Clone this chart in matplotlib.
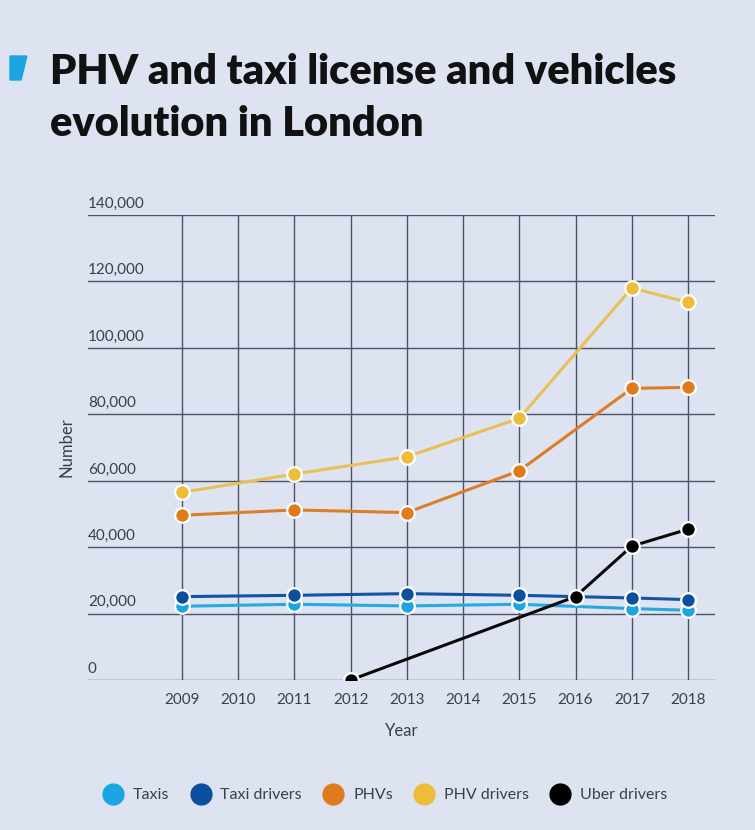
import matplotlib.pyplot as plt
from matplotlib.patches import Polygon
from matplotlib.lines import Line2D

plt.rcParams['font.family'] = ['Lato', 'DejaVu Sans']

# yearly figures for London licensing
years_main = [2009, 2011, 2013, 2015, 2017, 2018]
taxis = [22200, 22800, 22300, 22800, 21500, 21000]
taxi_drivers = [25100, 25500, 26000, 25500, 24700, 24200]
phvs = [49600, 51200, 50400, 63000, 87800, 88100]
phv_drivers = [56500, 62000, 67200, 78800, 118000, 113700]
years_uber = [2012, 2016, 2017, 2018]
uber_drivers = [0, 25100, 40300, 45400]

series_names = ["Taxis", "Taxi drivers", "PHVs", "PHV drivers", "Uber drivers"]
yticks = [0, 20000, 40000, 60000, 80000, 100000, 120000, 140000]
xticks = list(range(2009, 2019))

bg = "#dde3f1"
grid_c = "#4b5266"
text_c = "#3a3f4c"
colors = {
    "Taxis": "#1ba6e3",
    "Taxi drivers": "#0c4f9e",
    "PHVs": "#e17a1c",
    "PHV drivers": "#edbd3a",
    "Uber drivers": "#000000",
}
line_colors = {
    "Taxis": "#27a9de",
    "Taxi drivers": "#1552a0",
    "PHVs": "#de7d26",
    "PHV drivers": "#e8c056",
    "Uber drivers": "#0a0a0a",
}

fig = plt.figure(figsize=(7.55, 8.30), dpi=100, facecolor=bg)
ax = fig.add_axes([88 / 755, 1 - 680 / 830, (715 - 88) / 755, (680 - 215) / 830])
ax.set_facecolor(bg)

ax.set_xlim(2007.33, 2018.48)
ax.set_ylim(0, 140000)
for s in ax.spines.values():
    s.set_visible(False)

# grid: horizontal lines across the full width, vertical lines at each year
for v in yticks:
    ax.axhline(v, color=grid_c, lw=1.0, zorder=1)
for yr in xticks:
    ax.plot([yr, yr], [0, 140000], color=grid_c, lw=1.0, zorder=1)

ax.set_yticks([])
ax.set_xticks(xticks)
ax.set_xticklabels([str(x) for x in xticks], fontsize=11, color=text_c)
ax.tick_params(axis="x", length=0, pad=9)

# y labels sit on top of each gridline, left aligned
for v in yticks:
    ax.text(0.0, v + 1300, f"{v:,}", transform=ax.get_yaxis_transform(),
            ha="left", va="bottom", fontsize=11, color=text_c)

ax.set_xlabel("Year", fontsize=12, color=text_c, labelpad=12)
ax.set_ylabel("Number", fontsize=12, color=text_c)
ax.yaxis.set_label_coords(-0.022, 0.5)

data = [
    ("Taxis", years_main, taxis),
    ("Taxi drivers", years_main, taxi_drivers),
    ("PHVs", years_main, phvs),
    ("PHV drivers", years_main, phv_drivers),
    ("Uber drivers", years_uber, uber_drivers),
]
for name, xs, ys in data:
    ax.plot(xs, ys, color=line_colors[name], lw=2.2, zorder=3)
    ax.plot(xs, ys, ls="none", marker="o", markersize=10.5,
            markerfacecolor=colors[name], markeredgecolor="white",
            markeredgewidth=1.6, zorder=4)

# title with the small blue marker on the left
fig.text(50 / 755, 1 - 72 / 830, "PHV and taxi license and vehicles",
         fontsize=30, fontweight="heavy", color="#111111", va="center")
fig.text(50 / 755, 1 - 124 / 830, "evolution in London",
         fontsize=30, fontweight="heavy", color="#111111", va="center")
tri = Polygon([[10 / 755, 1 - 56 / 830], [27 / 755, 1 - 56 / 830],
               [21 / 755, 1 - 80 / 830], [10 / 755, 1 - 80 / 830]],
              closed=True, transform=fig.transFigure, color="#1ba6e3")
fig.patches.append(tri)

handles = [Line2D([], [], ls="none", marker="o", markersize=15,
                  markerfacecolor=colors[n], markeredgecolor=colors[n])
           for n in series_names]
fig.legend(handles, series_names, loc="center", bbox_to_anchor=(0.51, 1 - 795 / 830),
           ncol=5, frameon=False, fontsize=11.5, handletextpad=0.6,
           columnspacing=1.3, handlelength=1.3, labelcolor=text_c)

fig.savefig("out.png", dpi=100, facecolor=bg)
